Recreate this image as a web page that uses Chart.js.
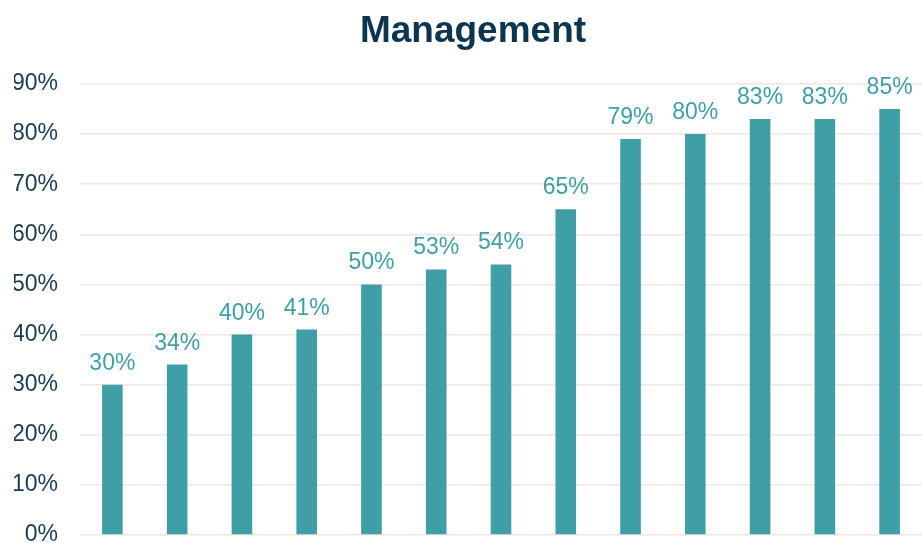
<!DOCTYPE html>
<html>
<head>
<meta charset="utf-8">
<script src="https://cdn.jsdelivr.net/npm/chart.js@4/dist/chart.umd.min.js"></script>
<style>
  html, body { margin: 0; padding: 0; background: #fff; }
  #wrap { width: 922px; height: 543px; }
</style>
</head>
<body>
<div id="wrap"><canvas id="myChart"></canvas></div>
<script>
// datos
var categorias = ["1", "2", "3", "4", "5", "6", "7", "8", "9", "10", "11", "12", "13"];
var valores = [30, 34, 40, 41, 50, 53, 54, 65, 79, 80, 83, 83, 85];
var titulo = "Management";

var teal = "#409EA6";

// etiquetas encima de las barras
var etiquetas = {
    id: "etiquetas",
    afterDatasetsDraw: function (chart) {
        var ctx = chart.ctx;
        var meta = chart.getDatasetMeta(0);
        ctx.save();
        ctx.font = "23px 'Liberation Sans', Arial, sans-serif";
        ctx.fillStyle = teal;
        ctx.textAlign = "center";
        ctx.textBaseline = "alphabetic";
        meta.data.forEach(function (bar, i) {
            ctx.fillText(valores[i] + "%", bar.x, bar.y - 15);
        });
        ctx.restore();
    }
};

// título dibujado a mano para poder moverlo
var tituloPlugin = {
    id: "tituloPlugin",
    afterDraw: function (chart) {
        var ctx = chart.ctx;
        ctx.save();
        ctx.font = "bold 37px 'Liberation Sans', Arial, sans-serif";
        ctx.fillStyle = "#0E3550";
        ctx.textAlign = "center";
        ctx.textBaseline = "alphabetic";
        ctx.fillText(titulo, chart.width / 2 + 12, 42);
        ctx.restore();
    }
};

var ctx = document.getElementById("myChart").getContext("2d");
var chart = new Chart(ctx, {
    type: "bar",
    data: {
        labels: categorias,
        datasets: [
            {
                label: titulo,
                backgroundColor: teal,
                data: valores,
                categoryPercentage: 1,
                barPercentage: 0.318,
            },
        ],
    },
    options: {
        responsive: true,
        maintainAspectRatio: false,
        animation: false,
        layout: { padding: { top: 84, left: 14, right: 0, bottom: 8 } },
        plugins: {
            legend: { display: false },
            title: { display: false },
            tooltip: { enabled: false },
        },
        scales: {
            x: { display: false },
            y: {
                min: 0,
                max: 90,
                border: { display: false },
                grid: { color: "#F1E6E0", lineWidth: 1.5, drawTicks: false },
                ticks: {
                    stepSize: 10,
                    padding: 22,
                    color: "#1A3A52",
                    font: { family: "'Liberation Sans', Arial, sans-serif", size: 23 },
                    callback: function (v) { return v + "%"; },
                },
                afterFit: function (scale) {
                    scale.width = 66;
                    scale.paddingTop = 0;
                    scale.paddingBottom = 0;
                },
            },
        },
    },
    plugins: [etiquetas, tituloPlugin],
});
</script>
</body>
</html>
